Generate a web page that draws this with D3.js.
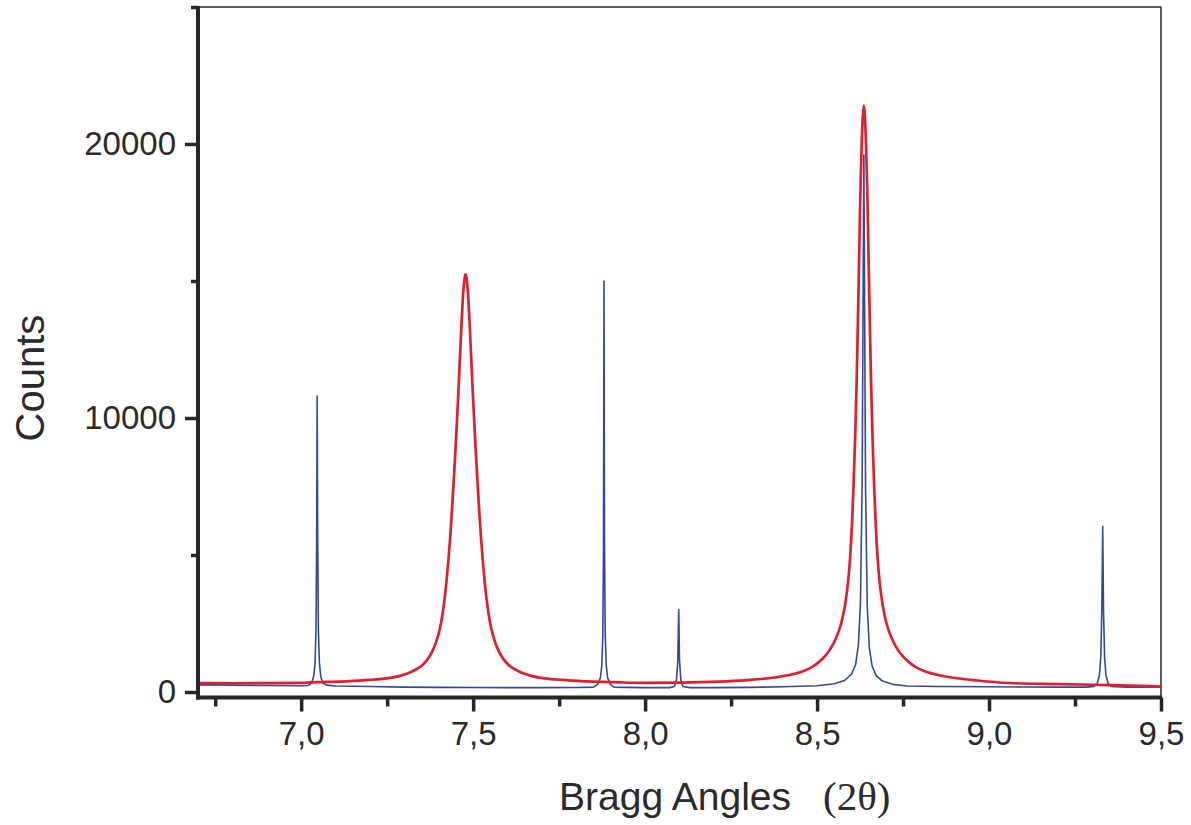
<!DOCTYPE html>
<html>
<head>
<meta charset="utf-8">
<script src="https://cdn.jsdelivr.net/npm/d3@7"></script>
<style>
  html, body { margin: 0; padding: 0; background: #ffffff; }
  svg { display: block; }
</style>
</head>
<body>
<svg id="chart" width="1191" height="825"></svg>
<script>
// Diffraction scans: angle (2θ, degrees) and detector counts.
const blueAngles = [6.70, 6.80, 6.90, 7.00, 7.020, 7.030, 7.036, 7.040, 7.043, 7.045, 7.0465, 7.048, 7.050, 7.053, 7.057, 7.063, 7.075,
  7.10, 7.20, 7.30, 7.40, 7.50, 7.60, 7.70, 7.80, 7.850, 7.862, 7.870, 7.874, 7.877, 7.879, 7.8805, 7.882, 7.884, 7.887, 7.891, 7.899,
  7.91, 8.00, 8.07, 8.085, 8.091, 8.095, 8.0978, 8.100, 8.104, 8.110, 8.13, 8.20, 8.30, 8.40, 8.50, 8.55, 8.58, 8.60, 8.612, 8.620,
  8.626, 8.631, 8.636, 8.641, 8.646, 8.652, 8.660, 8.672, 8.69, 8.72, 8.76, 8.85, 9.00, 9.10, 9.20, 9.28, 9.305, 9.315, 9.321, 9.325,
  9.328, 9.3305, 9.333, 9.336, 9.340, 9.346, 9.356, 9.40, 9.50];
const blueCounts = [260, 250, 240, 230, 240, 320, 560, 1000, 2200, 5400, 10800, 5600, 2300, 1050, 560, 330, 250,
  220, 200, 180, 170, 165, 160, 160, 165, 180, 280, 520, 950, 2000, 5200, 15000, 5400, 2100, 980, 520, 280,
  180, 160, 160, 200, 420, 1100, 3000, 1150, 420, 200, 160, 160, 170, 190, 230, 300, 420, 650, 1000, 1700,
  3200, 7500, 19600, 7400, 3100, 1600, 950, 600, 400, 280, 220, 200, 190, 185, 180, 180, 200, 330, 620, 1300,
  3000, 6050, 2900, 1250, 600, 320, 200, 180, 175];

const redAngles = [6.70, 6.80, 6.90, 7.00,
  7.028, 7.128, 7.198, 7.248, 7.288, 7.318, 7.338, 7.353, 7.368, 7.383, 7.393, 7.403, 7.411, 7.418, 7.423, 7.428,
  7.433, 7.438, 7.443, 7.448, 7.453, 7.458, 7.462, 7.466, 7.470, 7.474, 7.478,
  7.482, 7.486, 7.490, 7.494, 7.498, 7.503, 7.508, 7.513, 7.518, 7.523, 7.528, 7.533, 7.538, 7.545, 7.553, 7.563,
  7.573, 7.588, 7.603, 7.618, 7.638, 7.668, 7.708, 7.758, 7.828, 7.928,
  8.00, 8.10,
  8.216, 8.306, 8.376, 8.426, 8.461, 8.486, 8.506, 8.521, 8.536, 8.549, 8.561, 8.570, 8.578, 8.584, 8.590, 8.596,
  8.601, 8.606, 8.611, 8.615, 8.618, 8.621, 8.624, 8.627, 8.630, 8.633, 8.636,
  8.639, 8.642, 8.645, 8.648, 8.651, 8.654, 8.657, 8.661, 8.666, 8.671, 8.676, 8.682, 8.688, 8.694, 8.702, 8.711,
  8.723, 8.736, 8.751, 8.766, 8.786, 8.811, 8.846, 8.896, 8.966, 9.056,
  9.20, 9.35, 9.50];
const redCounts = [330, 320, 325, 335,
  350, 390, 440, 500, 590, 720, 850, 990, 1200, 1530, 1850, 2300, 2850, 3500, 4100, 4800,
  5600, 6550, 7600, 8700, 9900, 11200, 12300, 13400, 14350, 15000, 15250,
  15000, 14350, 13400, 12300, 11200, 9900, 8700, 7600, 6550, 5600, 4800, 4100, 3500, 2850, 2300, 1850,
  1530, 1200, 990, 850, 720, 590, 500, 440, 390, 350,
  335, 345,
  380, 440, 530, 640, 770, 920, 1100, 1280, 1520, 1800, 2150, 2500, 2950, 3400, 4000, 4900,
  6000, 7500, 9400, 11300, 13100, 15000, 17000, 18800, 20100, 21000, 21400,
  21000, 20100, 18800, 17000, 15000, 13100, 11300, 9400, 7500, 6000, 4900, 4000, 3400, 2950, 2500, 2150,
  1800, 1520, 1280, 1100, 920, 770, 640, 520, 420, 330,
  290, 250, 200];

const xMajorTicks = [7.0, 7.5, 8.0, 8.5, 9.0, 9.5];
const xMinorTicks = [6.75, 7.25, 7.75, 8.25, 8.75, 9.25];
const yMajorTicks = [0, 10000, 20000];
const yMinorTicks = [5000, 15000, 25000];

const svg = d3.select("#chart");
const plotLeft = 198, plotRight = 1161, plotTop = 7, plotBottom = 697.5;

const x = d3.scaleLinear().domain([6.7, 9.5]).range([plotLeft, plotRight]);
const y = d3.scaleLinear().domain([-200, 25000]).range([plotBottom, plotTop]);

const fmtX = v => d3.format(".1f")(v).replace(".", ",");
const inkColor = "#262626";
const textColor = "#2a2a2a";
const fontSans = "'Liberation Sans', Arial, Helvetica, sans-serif";

svg.append("defs").append("clipPath").attr("id", "plot-clip")
  .append("rect").attr("x", plotLeft).attr("y", plotTop)
  .attr("width", plotRight - plotLeft).attr("height", plotBottom - plotTop);

// Frame: thin top and right edges
svg.append("line").attr("x1", plotLeft).attr("x2", plotRight).attr("y1", plotTop).attr("y2", plotTop)
  .attr("stroke", inkColor).attr("stroke-width", 1.5);
svg.append("line").attr("x1", plotRight).attr("x2", plotRight).attr("y1", plotTop).attr("y2", plotBottom)
  .attr("stroke", inkColor).attr("stroke-width", 1.5);

// Data lines
const plot = svg.append("g").attr("clip-path", "url(#plot-clip)");
const blueData = blueAngles.map((a, i) => [a, blueCounts[i]]);
const redData = redAngles.map((a, i) => [a, redCounts[i]]);

plot.append("path").datum(blueData)
  .attr("fill", "none").attr("stroke", "#33479b").attr("stroke-width", 1.6)
  .attr("stroke-linejoin", "round")
  .attr("d", d3.line().x(d => x(d[0])).y(d => y(d[1])));

plot.append("path").datum(redData)
  .attr("fill", "none").attr("stroke", "#e01f2d").attr("stroke-width", 2.7)
  .attr("stroke-linejoin", "round")
  .attr("d", d3.line().x(d => x(d[0])).y(d => y(d[1])).curve(d3.curveMonotoneX));

// Bottom axis
const xAxis = svg.append("g").attr("transform", `translate(0,${plotBottom})`)
  .call(d3.axisBottom(x).tickValues(xMajorTicks).tickFormat(fmtX).tickSize(14).tickPadding(10));
svg.append("g").attr("transform", `translate(0,${plotBottom})`)
  .call(d3.axisBottom(x).tickValues(xMinorTicks).tickFormat("").tickSize(9))
  .call(g => g.select(".domain").remove());

// Left axis
const yAxis = svg.append("g").attr("transform", `translate(${plotLeft},0)`)
  .call(d3.axisLeft(y).tickValues(yMajorTicks).tickFormat(d3.format("d")).tickSize(13).tickPadding(9));
svg.append("g").attr("transform", `translate(${plotLeft},0)`)
  .call(d3.axisLeft(y).tickValues(yMinorTicks).tickFormat("").tickSize(7))
  .call(g => g.select(".domain").remove());

svg.selectAll(".tick line").attr("stroke", inkColor).attr("stroke-width", 3.5);
svg.selectAll(".domain").attr("stroke", inkColor).attr("stroke-width", 4);
xAxis.select(".domain").attr("d", `M${plotLeft - 2},0H${plotRight + 1}`);
yAxis.select(".domain").attr("d", `M0,${plotTop - 1}V${plotBottom + 2}`);

svg.selectAll(".tick text")
  .attr("fill", textColor).style("font-family", fontSans).style("font-size", "33px");

// Axis titles
svg.append("text")
  .attr("transform", "translate(44,378) rotate(-90)")
  .attr("text-anchor", "middle")
  .attr("fill", textColor).style("font-family", fontSans).style("font-size", "40px")
  .text("Counts");

const xt = svg.append("text").attr("x", 559).attr("y", 810)
  .attr("fill", textColor).style("font-family", fontSans).style("font-size", "39px");
xt.append("tspan").text("Bragg Angles");
xt.append("tspan").attr("dx", 32)
  .style("font-family", "'Liberation Serif', 'Times New Roman', serif").style("font-size", "41px")
  .text("(2θ)");
</script>
</body>
</html>
